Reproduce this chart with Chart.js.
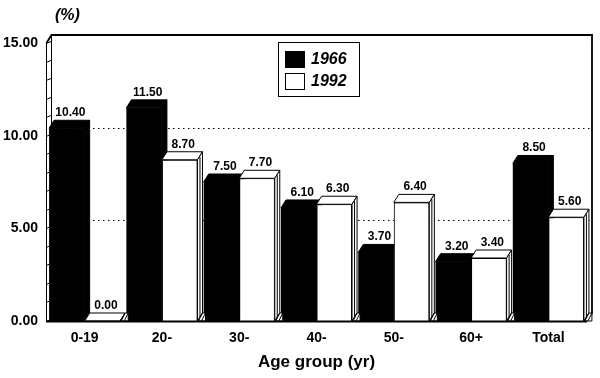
<!DOCTYPE html>
<html><head><meta charset="utf-8">
<script src="https://cdn.jsdelivr.net/npm/chart.js@4/dist/chart.umd.min.js"></script>
<style>html,body{margin:0;padding:0;background:#fff}#wrap{width:600px;height:378px}</style>
</head><body><div id="wrap"><canvas id="c" width="600" height="378"></canvas></div>
<script>
const categories = ['0-19','20-','30-','40-','50-','60+','Total'];
const series1966 = [10.40,11.50,7.50,6.10,3.70,3.20,8.50];
const series1992 = [0.00,8.70,7.70,6.30,6.40,3.40,5.60];
const seriesNames = ['1966','1992'];
const yTicks = [0,5,10,15];
const gridValues = [5,10];
const unitLabel = '(%)';
const xTitle = 'Age group (yr)';

const DX = 5, DY = -8;
const FONT = '"Liberation Sans", Arial, Helvetica, sans-serif';

function geom(el){
  const p = el.getProps(['x','y','base','width'], true);
  return {l: p.x - p.width/2, r: p.x + p.width/2, t: p.y, b: p.base, cx: p.x};
}
function faces(ctx, g, dark){
  ctx.save();
  ctx.lineWidth = 1;
  ctx.strokeStyle = '#000';
  ctx.fillStyle = dark ? '#000' : '#fff';
  // top face
  ctx.beginPath();
  ctx.moveTo(g.l, g.t); ctx.lineTo(g.l+DX, g.t+DY); ctx.lineTo(g.r+DX, g.t+DY); ctx.lineTo(g.r, g.t); ctx.closePath();
  ctx.fill(); ctx.stroke();
  // side face
  ctx.beginPath();
  ctx.moveTo(g.r, g.t); ctx.lineTo(g.r+DX, g.t+DY); ctx.lineTo(g.r+DX, g.b+DY); ctx.lineTo(g.r, g.b); ctx.closePath();
  ctx.fill(); ctx.stroke();
  if (!dark) {
    ctx.beginPath();
    ctx.moveTo(g.r+2.5, g.t-3); ctx.lineTo(g.r+2.5, g.b-3); ctx.stroke();
    ctx.beginPath();
    ctx.moveTo(g.r, g.b); ctx.lineTo(g.r+DX+3, g.b); ctx.lineTo(g.r+DX+3, g.b+DY); ctx.lineTo(g.r+DX, g.b+DY); ctx.closePath();
    ctx.fillStyle = '#fff'; ctx.fill(); ctx.stroke();
    ctx.beginPath();
    ctx.moveTo(g.r+1, g.b); ctx.lineTo(g.r+DX, g.b+DY);
    ctx.moveTo(g.r+4, g.b); ctx.lineTo(g.r+DX+3, g.b+DY);
    ctx.stroke();
  }
  ctx.restore();
}

const deco = {
  id: 'deco',
  beforeDatasetsDraw(chart){
    const {ctx, chartArea: a, scales: {y}} = chart;
    ctx.save();
    ctx.strokeStyle = '#000';
    ctx.lineWidth = 1;
    ctx.setLineDash([1.5, 3.5]);
    gridValues.forEach(v => {
      const py = Math.round(y.getPixelForValue(v) + DY) + 0.5;
      ctx.beginPath(); ctx.moveTo(a.left+DX+2, py); ctx.lineTo(a.right+DX-2, py); ctx.stroke();
    });
    ctx.setLineDash([]);
    ctx.lineWidth = 1.8;
    ctx.beginPath();
    ctx.moveTo(a.left+0.5, a.top); ctx.lineTo(a.left+DX+0.5, a.top+DY);
    ctx.lineTo(a.right+DX, a.top+DY); ctx.lineTo(a.right+DX, a.bottom+DY); ctx.lineTo(a.right, a.bottom);
    ctx.stroke();
    ctx.lineWidth = 1;
    ctx.beginPath();
    ctx.moveTo(a.left+0.5, a.top); ctx.lineTo(a.left+0.5, a.bottom);
    ctx.moveTo(a.left+DX+0.5, a.top+DY); ctx.lineTo(a.left+DX+0.5, a.bottom+DY);
    for (let v = 0; v <= yTicks[yTicks.length-1]; v++) {
      const py = Math.round(y.getPixelForValue(v)) + 0.5;
      ctx.moveTo(a.left, py); ctx.lineTo(a.left+DX, py-2);
    }
    ctx.stroke();
    ctx.restore();
  },
  afterDatasetsDraw(chart){
    const {ctx, chartArea: a} = chart;
    const m0 = chart.getDatasetMeta(0), m1 = chart.getDatasetMeta(1);
    for (let i = 0; i < categories.length; i++) {
      const e0 = m0.data[i], e1 = m1.data[i];
      faces(ctx, geom(e0), true);
      e1.draw(ctx, a);
      faces(ctx, geom(e1), false);
    }
    ctx.save();
    ctx.strokeStyle = '#000'; ctx.lineWidth = 2;
    ctx.beginPath(); ctx.moveTo(a.left, a.bottom+0.5); ctx.lineTo(a.right, a.bottom+0.5); ctx.stroke();
    ctx.fillStyle = '#000';
    ctx.font = 'bold 12px ' + FONT;
    ctx.textAlign = 'center'; ctx.textBaseline = 'alphabetic';
    [m0, m1].forEach((m, di) => {
      const vals = di === 0 ? series1966 : series1992;
      m.data.forEach((el, i) => {
        const g = geom(el);
        ctx.fillText(vals[i].toFixed(2), g.cx + DX/2 + 1, g.t + DY - 4);
      });
    });
    ctx.font = 'italic bold 16px ' + FONT;
    ctx.textAlign = 'left'; ctx.textBaseline = 'middle';
    ctx.fillText(unitLabel, 55, 16);
    ctx.lineWidth = 1;
    ctx.fillStyle = '#fff';
    ctx.fillRect(278.5, 42.5, 81, 54);
    ctx.strokeRect(278.5, 42.5, 81, 54);
    ctx.fillStyle = '#000';
    ctx.fillRect(285, 51, 20, 17);
    ctx.strokeRect(285.5, 73.5, 19, 16);
    ctx.font = 'italic bold 16px ' + FONT;
    ctx.fillText(seriesNames[0], 311, 60);
    ctx.fillText(seriesNames[1], 311, 82);
    ctx.restore();
  }
};

new Chart(document.getElementById('c'), {
  type: 'bar',
  data: {
    labels: categories,
    datasets: [
      {label: seriesNames[0], data: series1966, backgroundColor: '#000', borderWidth: 0},
      {label: seriesNames[1], data: series1992, backgroundColor: '#fff', borderColor: '#000', borderWidth: 1}
    ]
  },
  options: {
    responsive: false,
    animation: false,
    devicePixelRatio: 1,
    categoryPercentage: 0.92,
    barPercentage: 1,
    layout: {padding: {left: 0, right: 13, top: 43, bottom: 0}},
    plugins: {legend: {display: false}, tooltip: {enabled: false}},
    scales: {
      x: {
        grid: {display: false, drawTicks: false},
        border: {display: false},
        ticks: {font: {family: FONT, size: 14, weight: 'bold'}, color: '#000', padding: 9, maxRotation: 0},
        title: {display: true, text: xTitle, font: {family: FONT, size: 17, weight: 'bold'}, color: '#000', padding: {top: 4, bottom: 5}},
        afterFit(s){ s.height = 57; }
      },
      y: {
        min: 0, max: 15,
        afterBuildTicks(s){ s.ticks = yTicks.map(v => ({value: v})); },
        grid: {display: false, drawTicks: false},
        border: {display: false},
        ticks: {callback: v => Number(v).toFixed(2), font: {family: FONT, size: 14, weight: 'bold'}, color: '#000', padding: 8},
        afterFit(s){ s.width = 46; }
      }
    }
  },
  plugins: [deco]
});
</script>
</body></html>
